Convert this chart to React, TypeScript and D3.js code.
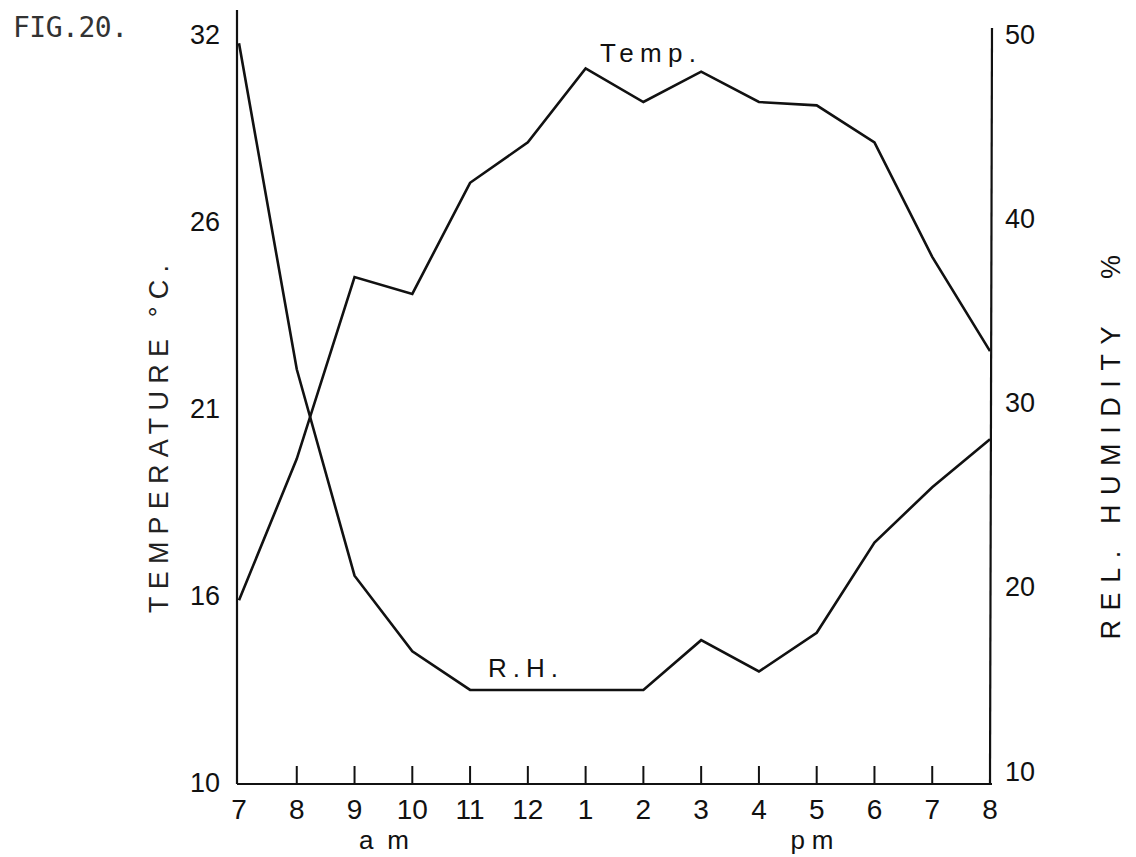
import React from "react";
import * as d3 from "d3";

const hours = ["7", "8", "9", "10", "11", "12", "1", "2", "3", "4", "5", "6", "7", "8"];
const temperature = [15.4, 19.6, 25.0, 24.5, 27.8, 29.0, 31.2, 30.2, 31.1, 30.2, 30.1, 29.0, 25.6, 22.8];
const humidity = [49.5, 31.8, 20.6, 16.5, 14.4, 14.4, 14.4, 14.4, 17.1, 15.4, 17.5, 22.4, 25.4, 28.0];
// Temperature ticks: originally 50..90 °F, labelled in °C
const tempTickValues = [10, 15.56, 21.11, 26.67, 32.22];
const tempTickLabels = ["10", "16", "21", "26", "32"];
const rhTickValues = [10, 20, 30, 40, 50];
const rhTickLabels = ["10", "20", "30", "40", "50"];

const W = 1136;
const H = 857;

export default function App() {
  const x = d3.scaleLinear().domain([0, hours.length - 1]).range([239, 990]);
  const yT = d3.scaleLinear().domain([10, 32.22]).range([782, 34]);
  const yH = d3.scaleLinear().domain([10, 50]).range([771, 34]);

  const tLine = d3
    .line<number>()
    .x((_, i) => x(i))
    .y((d) => yT(d));
  const hLine = d3
    .line<number>()
    .x((_, i) => x(i))
    .y((d) => yH(d));

  const axisY = 784;
  const leftX = 237;
  const rightX = 990;
  const font = "'Liberation Sans', Arial, sans-serif";
  const mono = "'DejaVu Sans Mono', monospace";

  return (
    <svg
      width={W}
      height={H}
      style={{ position: "absolute", left: 0, top: 0, background: "#fff" }}
    >
      <rect x={0} y={0} width={W} height={H} fill="#fff" />
      {/* Axes */}
      <line x1={leftX} y1={10} x2={leftX} y2={axisY} stroke="#111" strokeWidth={2.2} />
      <line x1={leftX} y1={axisY} x2={rightX + 2} y2={axisY} stroke="#111" strokeWidth={2.2} />
      <line x1={rightX + 2} y1={28} x2={rightX} y2={axisY} stroke="#111" strokeWidth={2.2} />

      {/* X ticks and labels */}
      {hours.map((h, i) => (
        <g key={"x" + i}>
          {i > 0 && i < hours.length - 1 && (
            <line x1={x(i)} y1={axisY} x2={x(i)} y2={axisY - 18} stroke="#111" strokeWidth={2} />
          )}
          <text
            x={x(i)}
            y={809}
            dy="0.36em"
            textAnchor="middle"
            fontFamily={font}
            fontSize={28}
            fill="#111"
          >
            {h}
          </text>
        </g>
      ))}
      <text x={384} y={849} textAnchor="middle" fontFamily={font} fontSize={26} textLength={50} lengthAdjust="spacing" fill="#111">
        am
      </text>
      <text x={812} y={849} textAnchor="middle" fontFamily={font} fontSize={26} textLength={43} lengthAdjust="spacing" fill="#111">
        pm
      </text>

      {/* Left tick labels */}
      {tempTickValues.map((v, i) => (
        <text
          key={"t" + i}
          x={220}
          y={yT(v)}
          dy="0.36em"
          textAnchor="end"
          fontFamily={font}
          fontSize={27}
          fill="#111"
        >
          {tempTickLabels[i]}
        </text>
      ))}
      {/* Right tick labels */}
      {rhTickValues.map((v, i) => (
        <text
          key={"h" + i}
          x={1005}
          y={yH(v)}
          dy="0.36em"
          textAnchor="start"
          fontFamily={font}
          fontSize={27}
          fill="#111"
        >
          {rhTickLabels[i]}
        </text>
      ))}

      {/* Data lines */}
      <path d={tLine(temperature) || ""} fill="none" stroke="#111" strokeWidth={2.6} strokeLinejoin="miter" />
      <path d={hLine(humidity) || ""} fill="none" stroke="#111" strokeWidth={2.6} strokeLinejoin="miter" />

      {/* Series labels */}
      <text x={600} y={62} fontFamily={font} fontSize={26} textLength={96} lengthAdjust="spacing" fill="#111">
        Temp.
      </text>
      <text x={488} y={677} fontFamily={font} fontSize={26} textLength={70} lengthAdjust="spacing" fill="#111">
        R.H.
      </text>

      {/* Title */}
      <text x={13} y={37} fontFamily={mono} fontSize={28} textLength={115} lengthAdjust="spacing" fill="#333">
        FIG.20.
      </text>

      {/* Axis titles */}
      <text
        transform={`translate(158,439) rotate(-90)`}
        dy="0.36em"
        textAnchor="middle"
        fontFamily={font}
        fontSize={27}
        textLength={348}
        lengthAdjust="spacing"
        fill="#222"
      >
        TEMPERATURE °C.
      </text>
      <text
        transform={`translate(1110,483) rotate(-90)`}
        dy="0.36em"
        textAnchor="middle"
        fontFamily={font}
        fontSize={27}
        textLength={313}
        lengthAdjust="spacing"
        fill="#111"
      >
        REL. HUMIDITY
      </text>
      <text
        transform={`translate(1110,267) rotate(-90)`}
        dy="0.36em"
        textAnchor="middle"
        fontFamily={font}
        fontSize={27}
        fill="#111"
      >
        %
      </text>
    </svg>
  );
}
